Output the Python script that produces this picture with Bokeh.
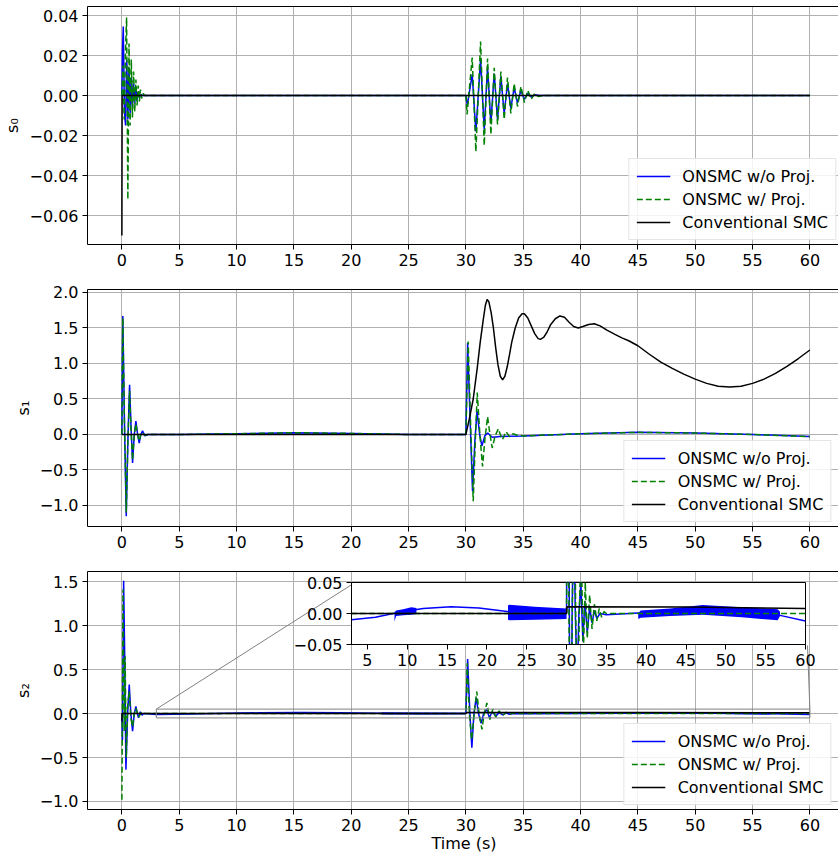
from bokeh.plotting import figure
from bokeh.models import Range1d, FixedTicker, LinearAxis, Legend, LegendItem, ColumnDataSource
from bokeh.layouts import column
from bokeh.embed import file_html
from bokeh.resources import INLINE

FONT = "DejaVu Sans"
BLUE, GREEN, BLACK = "#0000ff", "#008000", "#000000"

# ---------------- data ----------------
s0_blue_t = [0.0, 0.05, 0.12, 0.22, 0.32, 0.42, 0.52, 0.62, 0.72, 0.82, 0.92, 1.02, 1.12, 1.22, 1.32, 1.42, 1.52, 1.65, 1.8,
             30.0, 30.12, 30.55, 30.87, 31.28, 31.6, 31.89, 32.18, 32.47, 32.76, 33.05, 33.34, 33.63, 33.92, 34.21, 34.5,
             34.8, 35.1, 35.4, 35.7, 36.0, 36.4, 60.0]
s0_blue_v = [0.0, 0.022, 0.0345, -0.008, -0.015, 0.018, -0.012, 0.014, -0.009, 0.009, -0.006, 0.006, -0.004, 0.004, -0.0025, 0.002, -0.001, 0.0005, 0.0,
             0.0, -0.005, 0.0105, -0.018, 0.018, -0.017, 0.014, -0.014, 0.011, -0.012, 0.0095, -0.009, 0.006, -0.0065, 0.004, -0.0037,
             0.0025, -0.002, 0.0012, -0.0008, 0.0004, 0.0, 0.0]
s0_green_t = [0.0, 0.1, 0.2, 0.3, 0.41, 0.52, 0.62, 0.72, 0.82, 0.92, 1.02, 1.12, 1.22, 1.32, 1.42, 1.52, 1.62, 1.72, 1.85, 2.0,
              30.0, 30.1, 30.55, 30.87, 31.28, 31.6, 31.89, 32.18, 32.47, 32.76, 33.05, 33.34, 33.63, 33.92, 34.21, 34.5,
              34.8, 35.1, 35.4, 35.7, 36.0, 36.3, 36.8, 60.0]
s0_green_v = [0.0, 0.015, -0.012, 0.02, 0.039, -0.052, 0.026, -0.015, 0.018, -0.011, 0.012, -0.008, 0.008, -0.005, 0.005, -0.003, 0.003, -0.0015, 0.001, 0.0,
              0.0, -0.0095, 0.019, -0.028, 0.027, -0.025, 0.0185, -0.0195, 0.0138, -0.0145, 0.012, -0.012, 0.009, -0.009, 0.006, -0.0055,
              0.0045, -0.0035, 0.0025, -0.0018, 0.001, -0.0005, 0.0, 0.0]
s0_black_t = [0.0, 0.02, 60.0]
s0_black_v = [-0.07, 0.0, 0.0]

s1_blue_t = [0.0, 0.03, 0.08, 0.22, 0.38, 0.52, 0.67, 0.8, 0.93, 1.08, 1.22, 1.37, 1.51, 1.65, 1.8, 2.0, 2.3, 5.0, 10.0, 15.0,
             20.0, 25.0, 30.0, 30.15, 30.37, 30.58, 30.78, 30.97, 31.2, 31.4, 31.65, 31.9, 32.3, 33.0, 35.0, 40.0, 45.0, 50.0, 55.0, 60.0]
s1_blue_v = [0.0, 0.73, 1.67, 0.2, -1.15, -0.1, 0.70, 0.1, -0.40, 0.0, 0.19, 0.0, -0.12, 0.0, 0.05, -0.02, 0.0, 0.0, 0.01, 0.025,
             0.015, 0.0, 0.0, 1.29, 0.2, -0.80, -0.1, 0.33, 0.0, -0.16, -0.02, 0.02, -0.04, -0.03, -0.02, 0.01, 0.03, 0.02, 0.0, -0.03]
s1_green_t = [0.0, 0.03, 0.08, 0.22, 0.38, 0.52, 0.67, 0.8, 0.93, 1.08, 1.22, 1.37, 1.51, 1.7, 2.0, 2.3, 5.0, 10.0, 15.0, 20.0,
              25.0, 30.0, 30.2, 30.42, 30.64, 30.82, 30.99, 31.22, 31.45, 31.67, 31.89, 32.1, 32.3, 32.55, 32.83, 33.0, 33.2, 33.5,
              33.8, 34.1, 34.5, 35.0, 40.0, 45.0, 50.0, 55.0, 60.0]
s1_green_v = [0.0, 0.85, 1.64, 0.2, -1.1, -0.1, 0.62, 0.05, -0.36, 0.0, 0.15, 0.0, -0.09, 0.03, -0.01, 0.0, 0.0, 0.01, 0.025, 0.015,
              0.0, 0.0, 1.31, 0.1, -0.94, -0.1, 0.59, 0.0, -0.45, -0.05, 0.25, 0.0, -0.19, -0.02, 0.08, 0.0, -0.07, 0.04,
              -0.03, 0.01, -0.01, -0.02, 0.01, 0.03, 0.02, 0.0, -0.03]
s1_black_t = [0.0, 30.0, 30.3, 30.64, 31.0, 31.25, 31.5, 31.7, 31.85, 32.0, 32.2, 32.4, 32.6, 32.8, 33.0, 33.2, 33.4, 33.6, 33.8, 34.0,
              34.3, 34.6, 34.9, 35.1, 35.4, 35.7, 36.0, 36.3, 36.5, 36.8, 37.1, 37.4, 37.8, 38.2, 38.6, 39.0, 39.4, 39.8, 40.2, 40.7,
              41.2, 41.7, 42.3, 43.0, 43.6, 44.2, 45.0, 46.0, 47.0, 48.0, 49.0, 50.0, 51.0, 52.0, 53.0, 54.0, 55.0, 56.0, 57.0, 58.0,
              59.0, 60.0]
s1_black_v = [0.0, 0.0, 0.22, 0.5, 0.95, 1.3, 1.6, 1.82, 1.9, 1.87, 1.72, 1.5, 1.22, 0.98, 0.82, 0.77, 0.82, 0.95, 1.12, 1.3,
              1.5, 1.64, 1.70, 1.70, 1.64, 1.53, 1.42, 1.35, 1.34, 1.37, 1.45, 1.55, 1.63, 1.67, 1.65, 1.58, 1.52, 1.50, 1.52, 1.55,
              1.56, 1.53, 1.47, 1.41, 1.36, 1.32, 1.25, 1.13, 1.02, 0.93, 0.85, 0.78, 0.72, 0.68, 0.67, 0.68, 0.72, 0.78, 0.86, 0.96,
              1.07, 1.19]

s2_blue_t = [0.0, 0.05, 0.15, 0.25, 0.35, 0.5, 0.64, 0.78, 0.93, 1.08, 1.22, 1.35, 1.45, 1.6, 1.75, 1.9, 3.0, 6.0, 9.0, 12.0,
             15.5, 19.0, 22.8, 26.0, 29.9, 30.0, 30.15, 30.35, 30.52, 30.7, 30.9, 31.1, 31.33, 31.55, 31.8, 32.05, 32.3, 32.6, 32.9, 33.2,
             33.5, 33.8, 34.2, 35.0, 39.0, 43.0, 47.0, 52.0, 56.8, 60.0]
s2_blue_v = [0.0, -0.3, 1.51, 0.6, -0.64, 0.0, 0.33, 0.0, -0.2, 0.0, 0.08, 0.0, -0.05, 0.02, -0.02, 0.0, -0.01, -0.006, 0.002, 0.008,
             0.011, 0.009, 0.003, 0.001, 0.0, 0.0, 0.62, 0.0, -0.39, 0.0, 0.18, 0.0, -0.11, 0.0, 0.05, -0.045, 0.02, -0.03, 0.01, -0.015,
             0.005, -0.008, 0.0, -0.002, 0.001, 0.004, 0.007, 0.003, -0.003, -0.012]
s2_green_t = [0.0, 0.1, 0.2, 0.28, 0.38, 0.5, 0.64, 0.78, 0.93, 1.08, 1.22, 1.45, 1.7, 1.9, 30.0, 30.12, 30.3, 30.5, 30.72, 30.95,
              31.15, 31.4, 31.6, 31.83, 32.1, 32.35, 32.6, 32.9, 33.2, 33.5, 33.8, 34.1, 34.4, 34.7, 35.0, 60.0]
s2_green_v = [-0.98, 1.41, -0.2, 0.65, -0.5, 0.1, 0.25, -0.05, -0.15, 0.0, 0.06, -0.04, 0.01, 0.0, 0.0, 0.57, 0.0, -0.3, 0.0, 0.25,
              0.0, -0.18, 0.0, 0.12, -0.07, 0.05, -0.04, 0.03, -0.025, 0.015, -0.012, 0.008, -0.006, 0.003, 0.0, 0.0]
s2_black_t = [0.0, 0.02, 30.0, 30.05, 45.0, 60.0]
s2_black_v = [-0.09, 0.0, 0.0, 0.011, 0.0105, 0.008]

# high-frequency chattering envelopes of the blue s2 curve (visible in the inset)
chatter1_t = [8.4, 8.6, 9.5, 10.5, 11.15]
chatter1_lo = [-0.013, -0.004, -0.003, -0.002, -0.001]
chatter1_hi = [0.002, 0.005, 0.007, 0.01, 0.009]
chatter2_t = [22.65, 22.8, 26.0, 30.0]
chatter2_lo = [-0.01, -0.011, -0.01, -0.009]
chatter2_hi = [0.013, 0.014, 0.011, 0.008]
chatter3_t = [39.0, 39.3, 43.0, 47.1, 52.0, 56.5, 56.8]
chatter3_lo = [-0.009, -0.007, -0.004, -0.002, -0.006, -0.011, -0.004]
chatter3_hi = [0.0, 0.005, 0.008, 0.0137, 0.01, 0.007, 0.003]

x_ticks = [0, 5, 10, 15, 20, 25, 30, 35, 40, 45, 50, 55, 60]
s0_ticks = [-0.06, -0.04, -0.02, 0.0, 0.02, 0.04]
s0_labels = ["\u22120.06", "\u22120.04", "\u22120.02", "0.00", "0.02", "0.04"]
s1_ticks = [-1.0, -0.5, 0.0, 0.5, 1.0, 1.5, 2.0]
s1_labels = ["\u22121.0", "\u22120.5", "0.0", "0.5", "1.0", "1.5", "2.0"]
s2_ticks = [-1.0, -0.5, 0.0, 0.5, 1.0, 1.5]
s2_labels = ["\u22121.0", "\u22120.5", "0.0", "0.5", "1.0", "1.5"]
inset_x_ticks = [5, 10, 15, 20, 25, 30, 35, 40, 45, 50, 55, 60]
inset_y_ticks = [-0.05, 0.0, 0.05]
inset_y_labels = ["\u22120.05", "0.00", "0.05"]
legend_labels = ["ONSMC w/o Proj.", "ONSMC w/ Proj.", "Conventional SMC"]

# ---------------- layout constants ----------------
PAGE_W = 838
X_START, X_END = -3.0, 62.67
FRAME_W, BORDER_L = 753, 85
Y0 = (-0.0745, 0.0445)
Y1 = (-1.296, 2.042)
Y2 = (-1.091, 1.614)
INSET_X = (3.0, 60.0)
INSET_Y = (-0.05, 0.05)
F1 = dict(top=6, frame=238, bottom=38)
F2 = dict(top=7, frame=237, bottom=38)
F3 = dict(top=7, frame=238, bottom=45)
INSET_FRAME_LEFT, INSET_FRAME_TOP = 351, 583
INSET_W, INSET_H = 454, 62
INSET_BL, INSET_BT, INSET_BR, INSET_BB = BORDER_L, 12, 12, 30


def style_axis(ax):
    ax.axis_line_color = "black"
    ax.axis_line_width = 1
    ax.major_tick_line_color = "black"
    ax.major_tick_out = 5
    ax.major_tick_in = 0
    ax.minor_tick_line_color = None
    ax.major_label_text_font = FONT
    ax.major_label_text_font_size = "16px"
    ax.major_label_text_color = "black"
    ax.major_label_standoff = 4
    ax.axis_label_text_font = FONT
    ax.axis_label_text_font_size = "16px"
    ax.axis_label_text_font_style = "normal"
    ax.axis_label_text_color = "black"
    ax.axis_label_standoff = 4


def make_panel(f, yr, yticks, ylabels, ylabel, series, xlabel=None):
    p = figure(frame_width=FRAME_W, frame_height=f["frame"],
               x_range=Range1d(X_START, X_END), y_range=Range1d(*yr),
               output_backend="svg", toolbar_location=None,
               min_border_left=BORDER_L, min_border_right=0,
               min_border_top=f["top"], min_border_bottom=f["bottom"],
               outline_line_color=None, background_fill_color="white",
               border_fill_color="white")
    xa, ya = p.below[0], p.left[0]
    xa.ticker = FixedTicker(ticks=x_ticks)
    ya.ticker = FixedTicker(ticks=yticks)
    ya.major_label_overrides = dict(zip(yticks, ylabels))
    ya.axis_label = ylabel
    style_axis(xa)
    style_axis(ya)
    if xlabel:
        xa.axis_label = xlabel
        xa.axis_label_standoff = 0
    for g in (p.xgrid, p.ygrid):
        g.grid_line_color = "#b0b0b0"
        g.grid_line_width = 1
    top = LinearAxis(ticker=FixedTicker(ticks=[]), major_tick_line_color=None,
                     minor_tick_line_color=None, major_label_text_font_size="0px",
                     major_label_standoff=0, axis_line_color="black", axis_line_width=1)
    p.add_layout(top, "above")

    renderers = []
    for (t, v, color, dash) in series:
        src = ColumnDataSource(data=dict(t=t, v=v))
        r = p.line("t", "v", source=src, line_color=color, line_width=1.5, line_dash=dash)
        renderers.append(r)
    legend = Legend(items=[LegendItem(label=lab, renderers=[r]) for lab, r in zip(legend_labels, renderers)],
                    location="bottom_right", label_text_font=FONT, label_text_font_size="16px",
                    label_text_color="black", glyph_width=34, glyph_height=20, label_height=20,
                    label_standoff=12, spacing=3, padding=7, margin=4,
                    border_line_color="#cccccc", border_line_width=1,
                    background_fill_color="white", background_fill_alpha=0.85)
    p.add_layout(legend)
    return p


p1 = make_panel(F1, Y0, s0_ticks, s0_labels, "s\u2080",
                [(s0_blue_t, s0_blue_v, BLUE, "solid"), (s0_green_t, s0_green_v, GREEN, "6 3"),
                 (s0_black_t, s0_black_v, BLACK, "solid")])
p2 = make_panel(F2, Y1, s1_ticks, s1_labels, "s\u2081",
                [(s1_blue_t, s1_blue_v, BLUE, "solid"), (s1_green_t, s1_green_v, GREEN, "6 3"),
                 (s1_black_t, s1_black_v, BLACK, "solid")])
p3 = make_panel(F3, Y2, s2_ticks, s2_labels, "s\u2082",
                [(s2_blue_t, s2_blue_v, BLUE, "solid"), (s2_green_t, s2_green_v, GREEN, "6 3"),
                 (s2_black_t, s2_black_v, BLACK, "solid")], xlabel="Time (s)")

chatter = [(chatter1_t, chatter1_lo, chatter1_hi), (chatter2_t, chatter2_lo, chatter2_hi),
           (chatter3_t, chatter3_lo, chatter3_hi)]
for ct, lo, hi in chatter:
    p3.varea(x=ct, y1=lo, y2=hi, fill_color=BLUE, level="underlay")

# zoom indicator rectangle
p3.quad(left=[INSET_X[0]], right=[INSET_X[1]], bottom=[INSET_Y[0]], top=[INSET_Y[1]],
         fill_alpha=0, line_color="#808080", line_width=1)

# connectors: inset frame corners (page pixels) mapped to panel-3 data coordinates
fig1_h = F1["top"] + F1["frame"] + F1["bottom"]
fig2_h = F2["top"] + F2["frame"] + F2["bottom"]
p3_frame_top = fig1_h + fig2_h + F3["top"]


def px_to_t(px):
    return X_START + (px - BORDER_L) * (X_END - X_START) / FRAME_W


def py_to_v(py):
    return Y2[1] - (py - p3_frame_top) * (Y2[1] - Y2[0]) / F3["frame"]


p3.segment(x0=[INSET_X[0], INSET_X[1]], y0=[INSET_Y[1], INSET_Y[1]],
           x1=[px_to_t(INSET_FRAME_LEFT), px_to_t(INSET_FRAME_LEFT + INSET_W)],
           y1=[py_to_v(INSET_FRAME_TOP), py_to_v(INSET_FRAME_TOP + INSET_H)],
           line_color="#808080", line_width=1)

# ---------------- inset ----------------
inset_total_w = INSET_BL + INSET_W + INSET_BR
inset = figure(frame_width=INSET_W, frame_height=INSET_H,
               x_range=Range1d(*INSET_X), y_range=Range1d(*INSET_Y),
               output_backend="svg", toolbar_location=None,
               min_border_left=INSET_BL, min_border_right=INSET_BR,
               min_border_top=INSET_BT, min_border_bottom=INSET_BB,
               outline_line_color="black", outline_line_width=1,
               background_fill_color="white", border_fill_alpha=0, align="start")
if "frame_align" in inset.properties():
    inset.frame_align = False
inset.grid.visible = False
ixa, iya = inset.below[0], inset.left[0]
ixa.ticker = FixedTicker(ticks=inset_x_ticks)
iya.ticker = FixedTicker(ticks=inset_y_ticks)
iya.major_label_overrides = dict(zip(inset_y_ticks, inset_y_labels))
style_axis(ixa)
style_axis(iya)
ixa.axis_label = None
iya.axis_label = None
for ct, lo, hi in chatter:
    inset.varea(x=ct, y1=lo, y2=hi, fill_color=BLUE)
inset.line(s2_blue_t, s2_blue_v, line_color=BLUE, line_width=1.5)
inset.line(s2_green_t, s2_green_v, line_color=GREEN, line_width=1.5, line_dash="6 3")
inset.line(s2_black_t, s2_black_v, line_color=BLACK, line_width=1.5)

total_h = fig1_h + fig2_h + F3["top"] + F3["frame"] + F3["bottom"] + 2
inset_top = INSET_FRAME_TOP - INSET_BT
inset_left = INSET_FRAME_LEFT - INSET_BL
inset.margin = (inset_top - total_h, PAGE_W - inset_left - inset_total_w, 120, inset_left)

layout = column(p1, p2, p3, inset, spacing=0)
open("out.html", "w").write(file_html(layout, INLINE, "chart"))
